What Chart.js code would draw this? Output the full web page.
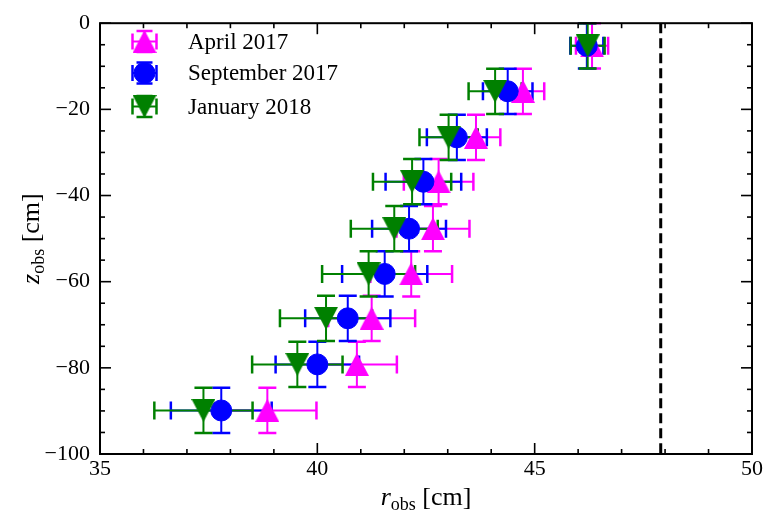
<!DOCTYPE html>
<html><head><meta charset="utf-8">
<script src="https://cdn.jsdelivr.net/npm/chart.js@4/dist/chart.umd.min.js"></script>
<style>html,body{margin:0;padding:0;background:#fff}#wrap{width:765px;height:519px;position:relative}</style>
</head><body><div id="wrap"><canvas id="c" width="765" height="519"></canvas></div>
<script>
// ---- data ----
const seriesNames = ['April 2017', 'September 2017', 'January 2018'];
const zObs = [-5.25, -15.8, -26.5, -36.8, -47.7, -58.2, -68.5, -79.2, -89.9];
const zErr = [5.25, 5.25, 5.25, 5.25, 5.25, 5.25, 5.25, 5.25, 5.25];
const rApril = [46.32, 44.73, 43.65, 42.79, 42.66, 42.16, 41.25, 40.91, 38.85];
const rAprilErr = [0.37, 0.49, 0.56, 0.80, 0.84, 0.94, 1.00, 0.92, 1.13];
const rSept = [46.20, 44.38, 43.21, 42.44, 42.11, 41.55, 40.70, 40.00, 37.79];
const rSeptErr = [0.38, 0.57, 0.69, 0.87, 0.85, 0.98, 0.98, 0.96, 1.16];
const rJan = [46.22, 44.09, 43.02, 42.18, 41.77, 41.18, 40.20, 39.54, 37.38];
const rJanErr = [0.39, 0.61, 0.67, 0.90, 1.00, 1.07, 1.06, 1.04, 1.13];
const wallR = 47.9;
const xTicks = [35, 40, 45, 50];
const yTicks = [0, -20, -40, -60, -80, -100];
const xMinorTicks = [36, 37, 38, 39, 41, 42, 43, 44, 46, 47, 48, 49];
const yMinorTicks = [-5, -10, -15, -25, -30, -35, -45, -50, -55, -65, -70, -75, -85, -90, -95];

const colors = ['#ff00ff', '#0000ff', '#008000'];
const FONT = "'Liberation Serif', 'DejaVu Serif', serif";

// matplotlib-like triangle markers (bbox-centred, width == height)
function triCanvas(color, down) {
  const w = 24, h = 23;
  const c = document.createElement('canvas');
  c.width = w; c.height = h;
  const g = c.getContext('2d');
  g.fillStyle = color;
  g.beginPath();
  if (!down) { g.moveTo(w / 2, 0); g.lineTo(w, h); g.lineTo(0, h); }
  else { g.moveTo(0, 0); g.lineTo(w, 0); g.lineTo(w / 2, h); }
  g.closePath(); g.fill();
  return c;
}
const triUp = triCanvas(colors[0], false);
const triDown = triCanvas(colors[2], true);

function pts(xs, ys) { return xs.map((x, i) => ({x: x, y: ys[i]})); }

const datasets = [
  {label: seriesNames[0], data: pts(rApril, zObs), xErr: rAprilErr, yErr: zErr,
   pointStyle: triUp, pointRadius: 12, order: 3},
  {label: seriesNames[1], data: pts(rSept, zObs), xErr: rSeptErr, yErr: zErr,
   pointStyle: 'circle', pointRadius: 10.5, order: 2},
  {label: seriesNames[2], data: pts(rJan, zObs), xErr: rJanErr, yErr: zErr,
   pointStyle: triDown, pointRadius: 12, order: 1}
].map((d, i) => Object.assign(d, {
  backgroundColor: colors[i], borderColor: colors[i],
  pointBackgroundColor: colors[i], pointBorderColor: colors[i], pointBorderWidth: 1,
  showLine: false, clip: false
}));

function line(ctx, x0, y0, x1, y1) { ctx.beginPath(); ctx.moveTo(x0, y0); ctx.lineTo(x1, y1); ctx.stroke(); }

const errPlugin = {
  id: 'errbars',
  beforeDatasetsDraw(chart) {
    const xs = chart.scales.x, ys = chart.scales.y, ca = chart.chartArea, ctx = chart.ctx;
    const px = xs.getPixelForValue(wallR);
    ctx.save();
    ctx.strokeStyle = '#000'; ctx.lineWidth = 3; ctx.setLineDash([10, 5]);
    line(ctx, px, ca.top, px, ca.bottom);
    ctx.restore();

    // all error bars below all markers, in series order
    const cap = 9;
    ctx.save();
    ctx.beginPath(); ctx.rect(ca.left, ca.top - 1, ca.right - ca.left, ca.bottom - ca.top + 2); ctx.clip();
    chart.data.datasets.forEach(ds => {
      ctx.strokeStyle = ds.borderColor;
      ds.data.forEach((p, i) => {
        const cx = xs.getPixelForValue(p.x), cy = ys.getPixelForValue(p.y);
        const x0 = xs.getPixelForValue(p.x - ds.xErr[i]), x1 = xs.getPixelForValue(p.x + ds.xErr[i]);
        const y0 = ys.getPixelForValue(p.y + ds.yErr[i]), y1 = ys.getPixelForValue(p.y - ds.yErr[i]);
        ctx.lineWidth = 2;
        line(ctx, x0, cy, x1, cy);
        line(ctx, cx, y0, cx, y1);
        ctx.lineWidth = 2.5;
        line(ctx, x0, cy - cap, x0, cy + cap);
        line(ctx, x1, cy - cap, x1, cy + cap);
        line(ctx, cx - cap, y0, cx + cap, y0);
        line(ctx, cx - cap, y1, cx + cap, y1);
      });
    });
    ctx.restore();
  },
  afterDraw(chart) {
    const ctx = chart.ctx, ca = chart.chartArea, xs = chart.scales.x, ys = chart.scales.y;
    ctx.save();
    // frame
    ctx.strokeStyle = '#000'; ctx.lineWidth = 2;
    ctx.strokeRect(ca.left, ca.top, ca.right - ca.left, ca.bottom - ca.top);
    // inward ticks on all four sides
    ctx.lineWidth = 1.6;
    const tick = (vals, len) => {
      vals.forEach(v => {
        const p = xs.getPixelForValue(v);
        line(ctx, p, ca.bottom, p, ca.bottom - len);
        line(ctx, p, ca.top, p, ca.top + len);
      });
    };
    const ytick = (vals, len) => {
      vals.forEach(v => {
        const p = ys.getPixelForValue(v);
        line(ctx, ca.left, p, ca.left + len, p);
        line(ctx, ca.right, p, ca.right - len, p);
      });
    };
    tick(xTicks, 11); tick(xMinorTicks, 5);
    ytick(yTicks, 11); ytick(yMinorTicks, 5);

    // legend
    const lx = 144.5, ly = [41.5, 73, 106.5];
    chart.data.datasets.forEach((ds, i) => {
      const y = ly[i];
      ctx.strokeStyle = ds.borderColor; ctx.fillStyle = ds.borderColor; ctx.lineWidth = 2;
      line(ctx, lx - 12, y, lx + 12, y);
      line(ctx, lx, y - 10.5, lx, y + 10.5);
      ctx.lineWidth = 2.5;
      line(ctx, lx - 12, y - 8, lx - 12, y + 8);
      line(ctx, lx + 12, y - 8, lx + 12, y + 8);
      line(ctx, lx - 8, y - 10.5, lx + 8, y - 10.5);
      line(ctx, lx - 8, y + 10.5, lx + 8, y + 10.5);
      ctx.lineWidth = 1;
      if (typeof ds.pointStyle === 'string') {
        Chart.helpers.drawPoint(ctx, {pointStyle: ds.pointStyle, radius: 10.5, rotation: 0, borderWidth: 1}, lx, y);
      } else {
        ctx.drawImage(ds.pointStyle, lx - ds.pointStyle.width / 2, y - ds.pointStyle.height / 2);
      }
      ctx.fillStyle = '#000';
      ctx.font = '23px ' + FONT;
      ctx.textBaseline = 'middle'; ctx.textAlign = 'left';
      ctx.fillText(ds.label, 188, y + 1);
    });

    // axis titles with subscripts
    const drawTitle = (sym, cxp, baseY) => {
      ctx.font = 'italic 26px ' + FONT;
      const w1 = ctx.measureText(sym).width;
      ctx.font = '18px ' + FONT;
      const w2 = ctx.measureText('obs').width;
      ctx.font = '26px ' + FONT;
      const w3 = ctx.measureText(' [cm]').width;
      let x = cxp - (w1 + w2 + w3) / 2;
      ctx.fillStyle = '#000'; ctx.textAlign = 'left'; ctx.textBaseline = 'alphabetic';
      ctx.font = 'italic 26px ' + FONT; ctx.fillText(sym, x, baseY); x += w1;
      ctx.font = '18px ' + FONT; ctx.fillText('obs', x, baseY + 5); x += w2;
      ctx.font = '26px ' + FONT; ctx.fillText(' [cm]', x, baseY);
    };
    drawTitle('r', (ca.left + ca.right) / 2, 505);
    ctx.save();
    ctx.translate(39, (ca.top + ca.bottom) / 2);
    ctx.rotate(-Math.PI / 2);
    drawTitle('z', 0, 0);
    ctx.restore();
    ctx.restore();
  }
};

const fmt = v => (v < 0 ? '\u2212' + Math.abs(v) : String(v));

new Chart(document.getElementById('c'), {
  type: 'scatter',
  data: {datasets: datasets},
  plugins: [errPlugin],
  options: {
    responsive: false, animation: false,
    layout: {padding: {left: 0, right: 13, top: 10, bottom: 0}},
    plugins: {legend: {display: false}, tooltip: {enabled: false}},
    font: {family: FONT},
    scales: {
      x: {
        type: 'linear', min: 35, max: 50,
        afterBuildTicks: s => { s.ticks = xTicks.map(v => ({value: v})); },
        afterFit: s => { s.height = 65; },
        grid: {display: false, drawTicks: false}, border: {display: false},
        ticks: {callback: fmt, color: '#000', padding: 2, maxRotation: 0, autoSkip: false,
                font: {family: FONT, size: 22}}
      },
      y: {
        type: 'linear', min: -100, max: 0,
        afterBuildTicks: s => { s.ticks = yTicks.map(v => ({value: v})); },
        afterFit: s => { s.width = 100; },
        grid: {display: false, drawTicks: false}, border: {display: false},
        ticks: {callback: fmt, color: '#000', padding: 10, autoSkip: false,
                font: {family: FONT, size: 22}}
      }
    }
  }
});
</script>
</body></html>
